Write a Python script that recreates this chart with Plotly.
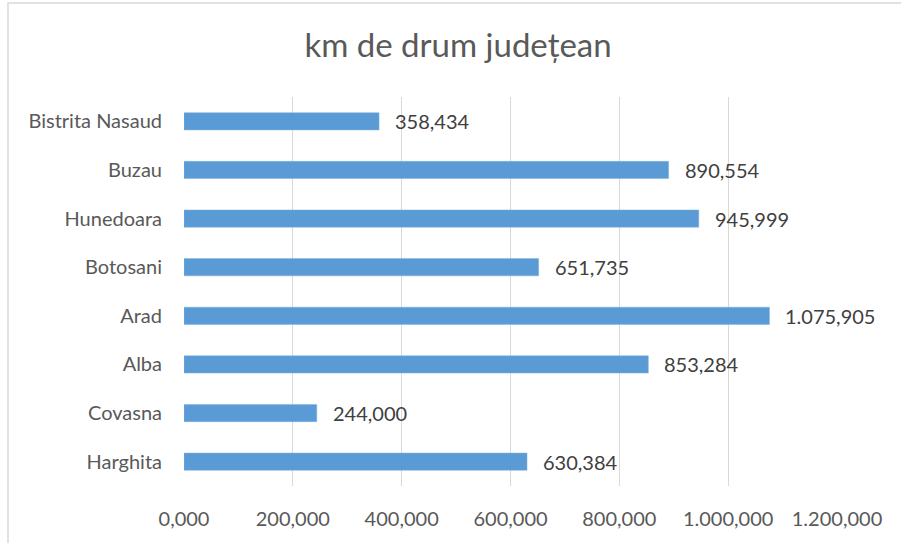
import plotly.graph_objects as go

categories = ["Harghita", "Covasna", "Alba", "Arad", "Botosani", "Hunedoara", "Buzau", "Bistrita Nasaud"]
values = [630.384, 244.000, 853.284, 1075.905, 651.735, 945.999, 890.554, 358.434]
tick_vals = [0, 200, 400, 600, 800, 1000, 1200]

FONT = "Lato"
W, H = 901, 543
L, R, T, B = 184, 64, 97, 57
pw, ph = W - L - R, H - T - B

fig = go.Figure()
fig.add_trace(go.Bar(
    y=categories, x=values, orientation="h",
    marker=dict(color="#5B9BD5", line=dict(color="#7FB2E0", width=0.5)),
    hoverinfo="skip",
))

for c, v in zip(categories, values):
    fig.add_annotation(
        x=v, y=c, xref="x", yref="y", text=f"{v:,.3f}".replace(",", "X").replace(".", ",").replace("X", "."),
        showarrow=False, xanchor="left", xshift=14, yshift=0,
        font=dict(family=FONT, size=20, color="#404040"),
    )

# chart-area border (cropped at right/bottom in reference)
fig.add_shape(type="rect", xref="paper", yref="paper",
              x0=(8 - L) / pw, x1=(W + 10 - L) / pw,
              y0=-(B + 10) / ph, y1=(H - 3 - B) / ph,
              line=dict(color="#D9D9D9", width=1.5), fillcolor="rgba(0,0,0,0)", layer="below")

fig.update_layout(
    width=W, height=H,
    margin=dict(l=L, r=R, t=T, b=B, pad=0),
    paper_bgcolor="white", plot_bgcolor="white",
    separators=",.",
    bargap=0.645,
    showlegend=False,
    title=dict(text="km de drum județean", x=(458 - L) / pw, xref="paper", xanchor="center",
               y=1 - 45 / H, yanchor="middle",
               font=dict(family=FONT, size=33, color="#595959")),
    xaxis=dict(range=[0, 1200], tickvals=tick_vals, tickformat=",.3f",
               showgrid=True, gridcolor="#D9D9D9", gridwidth=1.3,
               zeroline=False, showline=False, ticks="",
               tickfont=dict(family=FONT, size=20, color="#595959"), ticklabelstandoff=19),
    yaxis=dict(showgrid=False, zeroline=False, showline=False, ticks="",
               tickfont=dict(family=FONT, size=20, color="#595959"), ticklabelstandoff=21),
)

fig.write_html("out.html", config={"displayModeBar": False},
               post_script="document.body.style.margin='0';document.body.style.padding='0';window.dispatchEvent(new Event('resize'));")
